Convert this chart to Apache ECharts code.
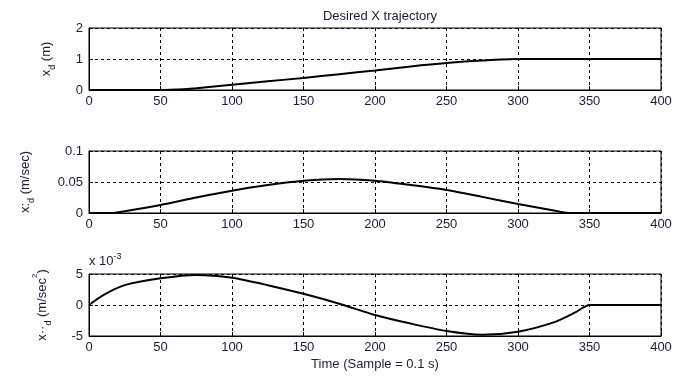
<!DOCTYPE html>
<html>
<head>
<meta charset="utf-8">
<script src="https://cdn.jsdelivr.net/npm/echarts@6/dist/echarts.min.js"></script>
<style>
  html, body { margin: 0; padding: 0; background: #fff; }
  #chart { width: 699px; height: 377px; }
</style>
</head>
<body>
<div id="chart"></div>
<script>
// position x_d (m)
const posT = [0, 25, 50, 57, 75, 100, 125, 150, 175, 200, 225, 250, 275, 300, 350, 400]
const posY = [0, 0, 0, 0.005, 0.06, 0.17, 0.28, 0.39, 0.51, 0.63, 0.76, 0.87, 0.95, 1.0, 1.0, 1.0]

// velocity (m/sec)
const velT = [0, 15, 25, 50, 75, 100, 125, 150, 175, 200, 225, 250, 275, 300, 325, 335, 350, 400]
const velY = [0, 0, 0.003, 0.013, 0.025, 0.036, 0.045, 0.052, 0.055, 0.052, 0.045, 0.037, 0.026, 0.0145, 0.004, 0, 0, 0]

// acceleration, units of 1e-3 m/sec^2
const accT = [0, 10, 25, 50, 75, 100, 125, 150, 175, 200, 225, 250, 275, 300, 325, 340, 350, 375, 400]
const accY = [0, 1.6, 3.2, 4.3, 4.85, 4.4, 3.2, 1.8, 0.2, -1.6, -3.0, -4.2, -4.8, -4.3, -2.8, -1.2, 0, 0, 0]

const txt = '#1c1c3c'
const font = 'Liberation Sans, Arial, sans-serif'

const chart = echarts.init(document.getElementById('chart'))

const grids = [
  { left: 89, right: 38, top: 28, height: 62 },
  { left: 89, right: 38, top: 151, height: 62 },
  { left: 89, right: 38, top: 274, height: 62 },
]

function xAxis(i) {
  return {
    type: 'value', gridIndex: i, min: 0, max: 400, interval: 50,
    axisLine: { show: true, onZero: false, lineStyle: { color: '#000', width: 1 } },
    axisTick: { show: true, inside: true, length: 4, lineStyle: { color: '#000' } },
    axisLabel: { color: txt, fontSize: 13, fontFamily: font, margin: 5 },
    splitLine: { show: true, lineStyle: { color: '#000', type: [3, 3], width: 1 } },
    name: i === 2 ? 'Time (Sample = 0.1 s)' : '',
    nameLocation: 'middle', nameGap: 22,
    nameTextStyle: { color: txt, fontSize: 13, fontFamily: font },
  }
}

const subRich = {
  m: { fontSize: 13, fontFamily: font, color: txt, verticalAlign: 'bottom', lineHeight: 18 },
  s: { fontSize: 9, fontFamily: font, color: txt, verticalAlign: 'bottom', lineHeight: 12, padding: [0, 0, -4, 0] },
  u: { fontSize: 8, fontFamily: font, color: txt, verticalAlign: 'top', lineHeight: 12 },
}

function yAxis(i, min, max, interval, name, gap) {
  return {
    type: 'value', gridIndex: i, min: min, max: max, interval: interval,
    axisLine: { show: true, onZero: false, lineStyle: { color: '#000', width: 1 } },
    axisTick: { show: true, inside: true, length: 4, lineStyle: { color: '#000' } },
    axisLabel: { color: txt, fontSize: 13, fontFamily: font, margin: 6 },
    splitLine: { show: true, lineStyle: { color: '#000', type: [3, 3], width: 1 } },
    name: name, nameLocation: 'middle', nameRotate: 90, nameGap: gap,
    nameTextStyle: { rich: subRich },
  }
}

function line(i, t, v) {
  return {
    type: 'line', xAxisIndex: i, yAxisIndex: i,
    data: t.map((x, k) => [x, v[k]]),
    showSymbol: false, smooth: 0.25,
    lineStyle: { color: '#000', width: 2 },
    silent: true, animation: false,
  }
}

chart.setOption({
  animation: false,
  title: {
    text: 'Desired X trajectory', left: 375, top: 5, textAlign: 'center',
    textStyle: { color: txt, fontSize: 13, fontWeight: 'normal', fontFamily: font },
  },
  grid: grids.map(g => Object.assign({ show: true, borderColor: '#000', borderWidth: 1 }, g)),
  xAxis: [xAxis(0), xAxis(1), xAxis(2)],
  yAxis: [
    yAxis(0, 0, 2, 1, '{m|x}{s|d}{m| (m)}', 36),
    yAxis(1, 0, 0.1, 0.05, '{m|x:}{s|d}{m| (m/sec)}', 57),
    yAxis(2, -5, 5, 5, '{m|x··}{s|d}{m| (m/sec}{u|2}{m|)}', 40),
  ],
  graphic: [{
    type: 'text', left: 89, top: 252,
    style: {
      text: '{m|x 10}{u|-3}',
      rich: {
        m: { fontSize: 13, fontFamily: font, fill: txt, verticalAlign: 'bottom', lineHeight: 16 },
        u: { fontSize: 9, fontFamily: font, fill: txt, verticalAlign: 'top', lineHeight: 16 },
      },
    },
  }],
  series: [line(0, posT, posY), line(1, velT, velY), line(2, accT, accY)],
})
</script>
</body>
</html>
